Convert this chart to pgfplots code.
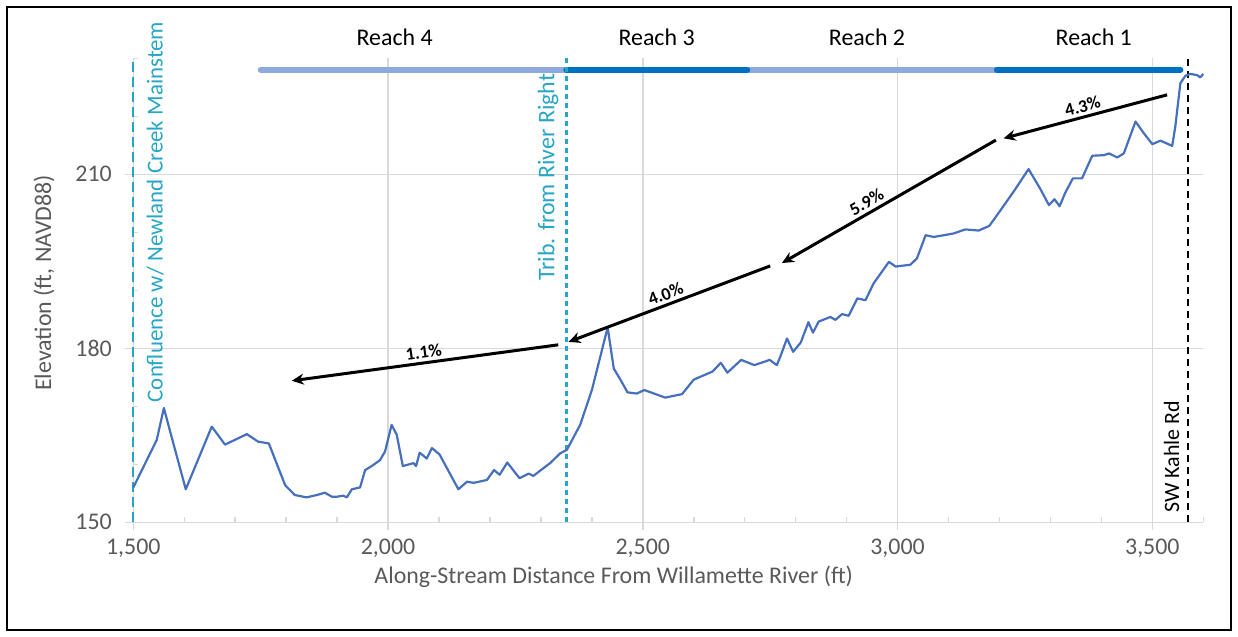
\documentclass[border=0pt]{standalone}
\usepackage{pgfplots}
\pgfplotsset{compat=1.18}
\usepackage{fontspec}
\setmainfont{Carlito}
\usetikzlibrary{arrows.meta}
\definecolor{curve}{RGB}{70,112,190}
\definecolor{teal1}{RGB}{38,166,196}
\definecolor{lightbar}{RGB}{142,169,219}
\definecolor{darkbar}{RGB}{0,112,192}
\definecolor{gridgray}{RGB}{217,217,217}
\definecolor{txtgray}{RGB}{89,89,89}
\begin{document}
\begin{tikzpicture}
\path[use as bounding box] (0,0) rectangle (1238bp,637bp);
\draw[line width=2bp] (7bp,7bp) rectangle (1231bp,630bp);
\begin{axis}[
  at={(133.3bp,114.7bp)}, anchor=south west,
  scale only axis, width=1070bp, height=464bp,
  xmin=1500, xmax=3600, ymin=150, ymax=230,
  clip=false,
  axis x line=bottom, axis y line=left,
  axis line style={-, draw=gridgray, line width=1.5bp},
  xtick={1500,2000,2500,3000,3500},
  minor xtick={1600,1700,1800,1900,2100,2200,2300,2400,2600,2700,2800,2900,3100,3200,3300,3400,3600},
  ytick={150,180,210},
  minor ytick={160,170,190,200,220,230},
  tick align=inside,
  major tick length=8bp, minor tick length=5bp,
  tick style={draw=gridgray, line width=1.5bp},
  major x tick style={yshift=-8bp},
  major y tick style={xshift=-8bp},
  grid=major,
  major grid style={draw=gridgray, line width=1.5bp},
  /pgf/number format/assume math mode=true,
  /pgf/number format/1000 sep={,},
  tick label style={font=\fontsize{24}{28}\selectfont, text=txtgray},
  xticklabel style={yshift=-13bp},
  yticklabel style={xshift=-18bp},
  xlabel={Along-Stream Distance From Willamette River (ft)},
  ylabel={Elevation (ft, NAVD88)},
  label style={font=\fontsize{24}{28}\selectfont, text=txtgray},
  xlabel style={at={(axis description cs:0.449,-0.118)}, anchor=center},
  ylabel style={at={(axis description cs:-0.0835,0.516)}, anchor=center},
]
% reach bars
\addplot[lightbar, line width=6bp, line cap=round] coordinates {(1750,228) (2350,228)};
\addplot[lightbar, line width=6bp, line cap=round] coordinates {(2705,228) (3195,228)};
\addplot[darkbar, line width=6bp, line cap=round] coordinates {(2350,228) (2705,228)};
\addplot[darkbar, line width=6bp, line cap=round] coordinates {(3195,228) (3555,228)};
% reference lines
\addplot[teal1, line width=2bp, dash pattern=on 10bp off 5bp] coordinates {(1500,150) (1500,230)};
\addplot[teal1, line width=3bp, dash pattern=on 5bp off 4bp] coordinates {(2350,150) (2350,230)};
\addplot[black, line width=2.5bp, dash pattern=on 7bp off 5bp] coordinates {(3570,150) (3570,230)};
% profile
\addplot[curve, line width=2.2bp, line join=round] coordinates {
(1500,156.0) (1546,164.2) (1560,169.7) (1582,162.5) (1603,155.7) (1654,166.5)
(1680,163.4) (1723,165.2) (1745,163.9) (1766,163.6) (1798,156.4) (1817,154.7)
(1840,154.3) (1860,154.7) (1876,155.1) (1890,154.4) (1899,154.4) (1912,154.6)
(1919,154.3) (1929,155.7) (1945,156.0) (1955,159.0) (1968,159.7) (1984,160.7)
(1994,162.2) (2007,166.8) (2017,165.1) (2029,159.7) (2050,160.2) (2055,159.7)
(2062,162.0) (2076,161.0) (2086,162.8) (2101,161.7) (2138,155.7) (2155,157.0)
(2168,156.8) (2194,157.3) (2208,159.0) (2219,158.2) (2234,160.3) (2258,157.6)
(2276,158.4) (2285,158.0) (2318,160.2) (2338,161.9) (2351,162.5) (2377,166.8)
(2400,172.8) (2431,183.6) (2443,176.5) (2456,174.6) (2470,172.4) (2488,172.2)
(2503,172.8) (2544,171.5) (2577,172.1) (2600,174.6) (2637,176.0) (2653,177.5)
(2666,175.8) (2693,178.0) (2719,177.1) (2749,178.0) (2763,177.1) (2770,178.6)
(2783,181.7) (2795,179.4) (2810,181.0) (2825,184.5) (2834,182.7) (2845,184.6)
(2868,185.4) (2878,184.9) (2891,185.9) (2904,185.6) (2921,188.6) (2937,188.3)
(2953,191.2) (2983,194.9) (2996,194.1) (3025,194.4) (3038,195.5) (3055,199.5)
(3071,199.2) (3091,199.5) (3110,199.8) (3133,200.5) (3159,200.3) (3180,201.1)
(3202,203.8) (3230,207.3) (3257,210.9) (3280,207.5) (3297,204.7) (3308,205.7)
(3318,204.5) (3329,206.8) (3344,209.3) (3362,209.3) (3382,213.2) (3405,213.3)
(3415,213.6) (3431,212.9) (3444,213.6) (3467,219.1) (3483,217.1) (3500,215.2)
(3516,215.8) (3539,214.9) (3545,218.2) (3555,225.7) (3565,227.0) (3575,227.3)
(3588,227.1) (3594,226.7) (3600,227.3)
};
% slope arrows
\draw[black, line width=3bp, -{Stealth[length=12bp,width=11bp]}] (axis cs:2334,180.6) -- node[sloped, above, pos=0.5, inner sep=3bp, font=\bfseries\fontsize{18}{21}\selectfont] {1.1\%} (axis cs:1811,174.4);
\draw[black, line width=3bp, -{Stealth[length=12bp,width=11bp]}] (axis cs:2750,194.2) -- node[sloped, above, pos=0.5, inner sep=3bp, font=\bfseries\fontsize{18}{21}\selectfont] {4.0\%} (axis cs:2354,181.1);
\draw[black, line width=3bp, -{Stealth[length=12bp,width=11bp]}] (axis cs:3193,215.9) -- node[sloped, above, pos=0.58, inner sep=3bp, font=\bfseries\fontsize{18}{21}\selectfont] {5.9\%} (axis cs:2773,194.7);
\draw[black, line width=3bp, -{Stealth[length=12bp,width=11bp]}] (axis cs:3529,223.7) -- node[sloped, above, pos=0.5, inner sep=3bp, font=\bfseries\fontsize{18}{21}\selectfont] {4.3\%} (axis cs:3208,216.2);
% labels
\node[font=\fontsize{24}{28}\selectfont] at (axis cs:2013,233.7) {Reach 4};
\node[font=\fontsize{24}{28}\selectfont] at (axis cs:2527,233.7) {Reach 3};
\node[font=\fontsize{24}{28}\selectfont] at (axis cs:2940,233.7) {Reach 2};
\node[font=\fontsize{24}{28}\selectfont] at (axis cs:3385,233.7) {Reach 1};
\node[rotate=90, text=teal1, font=\fontsize{23}{27}\selectfont] at (axis cs:1543,203.5) {Confluence w/ Newland Creek Mainstem};
\node[rotate=90, text=teal1, font=\fontsize{24}{28}\selectfont] at (axis cs:2314,209.5) {Trib. from River Right};
\node[rotate=90, text=black, font=\fontsize{22}{26}\selectfont] at (axis cs:3538,161.3) {SW Kahle Rd};
\end{axis}
\end{tikzpicture}
\end{document}
